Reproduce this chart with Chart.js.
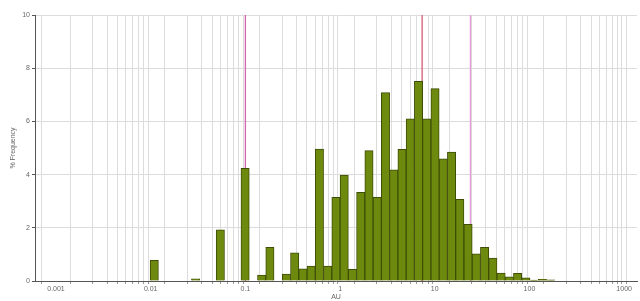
<!DOCTYPE html>
<html>
<head>
<meta charset="utf-8">
<script src="https://cdn.jsdelivr.net/npm/chart.js@4"></script>
<style>
    html, body { margin: 0; padding: 0; background: #fff; }
    #wrap { width: 640px; height: 301px; }
</style>
</head>
<body>
<div id="wrap"><canvas id="chart"></canvas></div>
<script>
// bin centres (AU, log bins) and % frequency of each bin
var binCenters = [0.01091, 0.02979, 0.05439, 0.09936, 0.1485, 0.1815, 0.2712, 0.3315, 0.4052, 0.4952,
    0.6053, 0.7399, 0.9045, 1.1056, 1.3514, 1.652, 2.0192, 2.4683, 3.0171, 3.6873,
    4.5082, 5.5105, 6.7361, 8.2339, 10.065, 12.303, 15.038, 18.382, 22.47, 27.467,
    33.574, 41.04, 50.17, 61.32, 74.96, 91.62, 112.0, 136.9, 167.3];
var frequency = [0.78, 0.08, 1.92, 4.24, 0.22, 1.27, 0.26, 1.06, 0.46, 0.56,
    4.96, 0.56, 3.15, 3.98, 0.44, 3.33, 4.9, 3.15, 7.08, 4.18,
    4.95, 6.1, 7.51, 6.1, 7.23, 4.59, 4.85, 3.07, 2.13, 1.02,
    1.27, 0.86, 0.3, 0.16, 0.29, 0.12, 0.03, 0.06, 0.04];

var decades = [0.001, 0.01, 0.1, 1, 10, 100, 1000];
var markerLines = [0.1, 7.35, 23.8];
var markerColors = ["#d466b0", "#e0607a", "#e79ad8"];

window.onload = function () {
    drawChart();
}

function drawChart() {
    var bars = [];
    for (var i = 0; i < binCenters.length; i++) {
        bars.push({ x: binCenters[i], y: frequency[i] });
    }

    var datasets = [{
        type: "bar",
        label: "% Frequency",
        data: bars,
        backgroundColor: "#6e8a0e",
        borderColor: "#3f4d06",
        borderWidth: 1,
        // one log bin is ~0.0872 decade wide
        barThickness: 8.3,
        order: 0
    }];

    for (var j = 0; j < markerLines.length; j++) {
        datasets.push({
            type: "line",
            data: [{ x: markerLines[j], y: 0 }, { x: markerLines[j], y: 10 }],
            borderColor: markerColors[j],
            borderWidth: 1.3,
            pointRadius: 0,
            order: 1
        });
    }

    var tickFont = { family: "Liberation Sans", size: 7 };

    new Chart("chart", {
        type: "bar",
        data: { datasets: datasets },
        options: {
            responsive: true,
            maintainAspectRatio: false,
            animation: false,
            layout: { padding: { top: 15, right: 3, left: 0, bottom: 0 } },
            plugins: {
                legend: { display: false },
                tooltip: { enabled: false }
            },
            scales: {
                x: {
                    type: "logarithmic",
                    min: 0.000649,
                    max: 1367,
                    afterBuildTicks: function (scale) {
                        var t = [];
                        for (var d = 0; d < decades.length; d++) {
                            for (var m = 1; m <= 9; m++) {
                                var v = decades[d] * m;
                                if (v <= 1000) t.push({ value: v });
                            }
                        }
                        scale.ticks = t;
                    },
                    afterFit: function (scale) { scale.height = 20; },
                    grid: { color: "#dcdcdc", tickLength: 3, tickColor: "#999" },
                    border: { color: "#555" },
                    ticks: {
                        autoSkip: false,
                        maxRotation: 0,
                        padding: 1,
                        color: "#666",
                        font: tickFont,
                        callback: function (value) {
                            return decades.indexOf(value) >= 0 ? String(value) : "";
                        }
                    },
                    title: {
                        display: true,
                        text: "AU",
                        color: "#666",
                        font: tickFont,
                        padding: 0
                    }
                },
                y: {
                    min: 0,
                    max: 10,
                    afterFit: function (scale) { scale.width = 35; },
                    grid: { color: "#dcdcdc", tickLength: 3, tickColor: "#555" },
                    border: { color: "#555" },
                    ticks: {
                        stepSize: 2,
                        padding: 2,
                        color: "#666",
                        font: tickFont
                    },
                    title: {
                        display: true,
                        text: "% Frequency",
                        color: "#666",
                        font: tickFont,
                        padding: { top: 9, bottom: 0 }
                    }
                }
            }
        }
    });
}
</script>
</body>
</html>
